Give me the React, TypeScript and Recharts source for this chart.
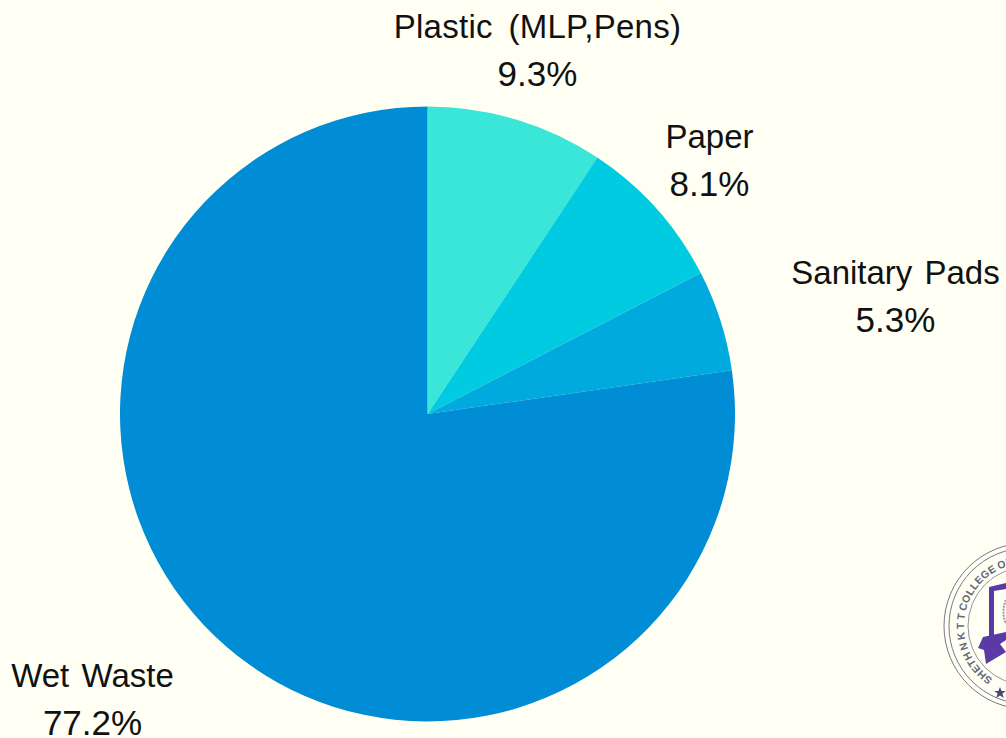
import { PieChart, Pie, Cell } from 'recharts';

const categories = ['Plastic (MLP,Pens)', 'Paper', 'Sanitary Pads', 'Wet Waste'];
const shares = [9.3, 8.1, 5.3, 77.2];
const colors = ['#3AE6D7', '#00CBE0', '#00A9DE', '#008DD5'];

const data = categories.map((name, i) => ({ name, value: shares[i] }));

// label centres relative to the pie centre
const labelOffsets = [
  [110, -387],
  [282, -277],
  [468, -141],
  [-335, 262],
];

const BG = '#FFFFF4';

const renderLabel = (props: any) => {
  const { cx, cy, index, name, value } = props;
  const [dx, dy] = labelOffsets[index];
  return (
    <text
      x={cx + dx}
      y={cy + dy}
      textAnchor="middle"
      fontFamily="Liberation Sans"
      fontSize={33}
      fill="#111"
      style={{ wordSpacing: index === 0 ? 6 : 3 }}
    >
      <tspan x={cx + dx} dy={11} letterSpacing={index === 0 ? 0.3 : 0}>{name}</tspan>
      <tspan x={cx + dx} dy={48} fontSize={35}>{value.toFixed(1)}%</tspan>
    </text>
  );
};

// college seal in the lower right corner, cut by the page edge
function Seal() {
  return (
    <svg width={70} height={190} style={{ position: 'absolute', left: 936, top: 535 }} viewBox="936 535 70 190">
      <defs>
        <path id="sealRing" d="M 1027 689 A 63 63 0 1 1 1027 563" />
      </defs>
      <g fill="none" stroke="#77778a">
        <circle cx={1027} cy={626} r={83} strokeWidth={1} />
        <circle cx={1027} cy={626} r={78} strokeWidth={1} />
        <circle cx={1027} cy={626} r={59} strokeWidth={0.8} />
      </g>
      <text fontFamily="Liberation Sans" fontSize={10.5} fontWeight="bold" fill="#66667a" letterSpacing={0.3} wordSpacing={-1}>
        <textPath href="#sealRing" startOffset={36}>SHETH N K T T COLLEGE OF COMMERCE</textPath>
      </text>
      <path d="M 989 587 L 1006 583 L 1006 589 L 994 591 L 994 636 L 989 638 Z" fill="#5B3AA6" />
      <path d="M 983 637 L 1006 632 L 1006 640 L 1000 644 L 1006 652 L 986 664 L 984 650 L 978 648 Z" fill="#5B3AA6" />
      <path d="M 1000 687 l 1.6 4 l 4.2 0 l -3.4 2.6 l 1.4 4.4 l -3.8 -2.6 l -3.8 2.6 l 1.4 -4.4 l -3.4 -2.6 l 4.2 0 Z" fill="#4a4a70" />
      <path d="M 1006 600 A 30 30 0 0 0 1006 624" fill="none" stroke="#9a9aa6" strokeWidth={2} strokeDasharray="2 1" />
    </svg>
  );
}

export default function App() {
  document.body.style.margin = '0';
  document.body.style.background = BG;
  return (
    <div style={{ position: 'relative', width: 1006, height: 738, overflow: 'hidden', background: BG }}>
      <PieChart width={1006} height={738} margin={{ top: 0, right: 0, bottom: 0, left: 0 }}>
        <Pie
          data={data}
          dataKey="value"
          nameKey="name"
          cx={427.5}
          cy={414}
          outerRadius={307.5}
          startAngle={90}
          endAngle={-270}
          stroke="none"
          label={renderLabel}
          labelLine={false}
          isAnimationActive={false}
        >
          {data.map((d, i) => (
            <Cell key={d.name} fill={colors[i]} />
          ))}
        </Pie>
      </PieChart>
      <Seal />
    </div>
  );
}
